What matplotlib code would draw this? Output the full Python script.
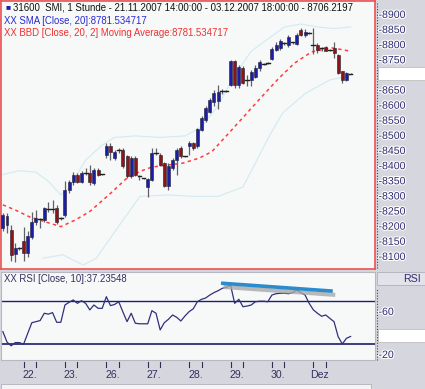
import matplotlib
matplotlib.use("Agg")
import matplotlib.pyplot as plt
from matplotlib.patches import Rectangle
import matplotlib.patheffects as pe
import matplotlib.transforms as mtransforms

# ---------------- data ----------------
opens = [8195, 8205, 8189, 8110, 8128, 8151, 8114, 8167, 8217, 8222,
         8222, 8258, 8258, 8261, 8227, 8239, 8321, 8349, 8371, 8349,
         8376, 8377, 8344, 8388, 8373, 8437, 8467, 8426, 8451, 8454,
         8432, 8366, 8426, 8365, 8359, 8332, 8355, 8442, 8437, 8410,
         8335, 8393, 8421, 8459, 8431, 8465, 8476, 8465, 8520, 8553,
         8579, 8613, 8615, 8646, 8648, 8669, 8746, 8669, 8725, 8684,
         8685, 8695, 8725, 8737, 8741, 8755, 8785, 8790, 8806, 8800,
         8808, 8805, 8850, 8835, 8840, 8800, 8801, 8791, 8794, 8786,
         8791, 8768, 8713, 8685, 8706]
highs = [8244, 8246, 8206, 8146, 8132, 8199, 8185, 8250, 8255, 8228,
         8265, 8283, 8288, 8270, 8232, 8350, 8355, 8382, 8377, 8385,
         8393, 8404, 8395, 8393, 8375, 8476, 8476, 8452, 8459, 8459,
         8437, 8432, 8432, 8371, 8362, 8360, 8459, 8459, 8443, 8415,
         8410, 8426, 8459, 8465, 8434, 8482, 8480, 8526, 8565, 8600,
         8625, 8652, 8669, 8655, 8652, 8752, 8752, 8735, 8730, 8700,
         8718, 8735, 8752, 8742, 8745, 8795, 8810, 8822, 8810, 8832,
         8812, 8840, 8857, 8855, 8845, 8857, 8806, 8795, 8797, 8788,
         8812, 8770, 8716, 8710, 8708]
lows = [8184, 8180, 8085, 8083, 8124, 8085, 8100, 8160, 8205, 8194,
        8215, 8250, 8244, 8208, 8222, 8233, 8310, 8338, 8344, 8344,
        8371, 8338, 8338, 8366, 8370, 8426, 8421, 8421, 8445, 8393,
        8360, 8360, 8366, 8355, 8357, 8299, 8352, 8437, 8399, 8330,
        8321, 8388, 8371, 8426, 8429, 8437, 8455, 8460, 8515, 8545,
        8575, 8600, 8590, 8640, 8646, 8665, 8660, 8660, 8670, 8665,
        8665, 8690, 8715, 8735, 8738, 8750, 8780, 8785, 8800, 8795,
        8805, 8800, 8830, 8828, 8836, 8770, 8775, 8780, 8780, 8782,
        8758, 8705, 8676, 8680, 8704]
closes = [8239, 8236, 8107, 8130, 8130, 8112, 8169, 8217, 8228, 8224,
          8261, 8259, 8260, 8217, 8229, 8321, 8349, 8371, 8349, 8379,
          8378, 8349, 8388, 8371, 8374, 8467, 8448, 8448, 8452, 8399,
          8366, 8426, 8371, 8366, 8360, 8357, 8443, 8443, 8404, 8335,
          8399, 8421, 8454, 8432, 8432, 8476, 8459, 8522, 8559, 8592,
          8619, 8642, 8646, 8647, 8649, 8746, 8669, 8728, 8675, 8686,
          8712, 8725, 8745, 8739, 8742, 8788, 8800, 8815, 8807, 8826,
          8810, 8835, 8835, 8845, 8840, 8800, 8784, 8790, 8782, 8785,
          8774, 8708, 8685, 8708, 8706.22]

sma_bars = [0, 3, 6.5, 10, 14, 17.5, 21, 23.5, 26, 30, 33, 36, 40, 43.5,
            47.5, 50.5, 55.3, 62.5, 66.7, 70.5, 74.6, 79.5, 84]
sma_vals = [8272, 8255, 8232, 8217, 8200, 8222, 8250, 8280, 8310, 8361,
            8382, 8397, 8404, 8410, 8427, 8448, 8520, 8629, 8691, 8741,
            8778, 8791, 8780]

bb_up_bars = [0, 4, 8, 11, 14, 16, 20, 24, 27, 32, 38, 44, 48, 52, 56, 60,
              64, 68, 72, 76, 80, 84]
bb_up_vals = [8372, 8385, 8380, 8350, 8305, 8330, 8420, 8470, 8495, 8500,
              8495, 8500, 8530, 8600, 8700, 8780, 8820, 8860, 8870, 8860,
              8855, 8860]
bb_lo_bars = [9.7, 14.5, 19.4, 22.6, 27.9, 33.1, 40, 46, 52, 58, 64.5,
              67.6, 73, 79, 84]
bb_lo_vals = [8096, 8107, 8073, 8096, 8200, 8300, 8305, 8300, 8300, 8331,
              8503, 8576, 8640, 8685, 8700]

rsi_vals = [41.7, 32, 28.5, 31.5, 31.5, 30, 40, 50, 51, 52,
            58.8, 58, 59.4, 50.4, 50.4, 66.5, 69, 71.2, 68, 70.5,
            68, 61.9, 66.5, 63.4, 63.4, 74.2, 65.9, 67, 69.5, 60,
            51, 58.8, 49.5, 49, 49, 49, 61.2, 58.8, 43.3, 50,
            53.2, 57.2, 55, 51.6, 56.3, 60.3, 63, 69.6, 71.8, 73,
            75.8, 78, 79.8, 82, 83, 85.1, 68, 71.8, 64.9, 65.5,
            66.5, 69.5, 70, 70, 69.5, 75.8, 77, 77.4, 77.5, 77,
            78, 80.5, 78, 75.8, 68, 62, 58.8, 56, 57.2, 54,
            51, 37, 30.2, 35.5, 37.2]
rsi_trend_bars = [52.7, 79.7]
rsi_trend_vals = [86.8, 79.4]

day_labels = ["22.", "23.", "26.", "27.", "28.", "29.", "30.", "Dez"]
day_start_bars = [5, 15, 25, 35, 45, 55, 65, 75]
price_ticks = [8100, 8150, 8200, 8250, 8300, 8350, 8400, 8450, 8500,
               8550, 8600, 8650, 8750, 8800, 8850, 8900]
rsi_ticks = [60, 20]
last_price_label = "8706.219"
last_price = 8706.22
last_rsi_label = "37.2355"
last_rsi = 37.2355

title_text = "31600  SMI, 1 Stunde - 21.11.2007 14:00:00 - 03.12.2007 18:00:00 - 8706.2197"
sma_text = "XX SMA [Close, 20]:8781.534717"
bbd_text = "XX BBD [Close, 20, 2] Moving Average:8781.534717"
rsi_text = "XX RSI [Close, 10]:37.23548"

# ---------------- layout ----------------
W, H = 425, 389
plt.rcParams['font.family'] = ['Liberation Sans', 'DejaVu Sans']
fig = plt.figure(figsize=(W / 100, H / 100), dpi=100)
fig.patch.set_facecolor('#d6d6de')

def fr(x0, y0, x1, y1):
    return [x0 / W, 1 - y1 / H, (x1 - x0) / W, (y1 - y0) / H]

PLOT_BG = '#f7f9f9'
ax = fig.add_axes(fr(1, 1, 375, 269))
ax.set_facecolor(PLOT_BG)
ax2 = fig.add_axes(fr(1, 272, 375, 360))
ax2.set_facecolor(PLOT_BG)

xmin, xmax = -0.45, 89.9
ax.set_xlim(xmin, xmax)
ax.set_ylim(8060, 8946)
ax2.set_xlim(xmin, xmax)
ax2.set_ylim(15.3, 97.2)

for a in (ax, ax2):
    a.set_xticks([])
    a.set_yticks([])
for s in ax.spines.values():
    s.set_color('#f05050')
    s.set_linewidth(1.2)
for s in ax2.spines.values():
    s.set_color('#b8b8c0')
    s.set_linewidth(0.8)

# Bollinger bands
ax.plot(bb_up_bars, bb_up_vals, color='#d6ebf1', lw=0.9, zorder=1)
ax.plot(bb_lo_bars, bb_lo_vals, color='#d6ebf1', lw=0.9, zorder=1)
# SMA
ax.plot(sma_bars, sma_vals, color='#ff3b3b', lw=1.1, ls=(0, (2.2, 2.2)), zorder=2)

# candles
bw = 0.72
for i, (o, h, l, c) in enumerate(zip(opens, highs, lows, closes)):
    ax.plot([i, i], [l, h], color='#606068', lw=0.9, zorder=3, solid_capstyle='butt')
    if abs(c - o) < 3:
        ax.plot([i - 0.45, i + 0.45], [c, c], color='#202020', lw=1.0, zorder=4)
    else:
        col = '#1c1ca8' if c > o else '#8c1414'
        ax.add_patch(Rectangle((i - bw / 2, min(o, c)), bw, abs(c - o),
                               facecolor=col, edgecolor='#202030', lw=0.4, zorder=4))

# RSI
ax2.axhline(70, color='#1e1e6e', lw=1.0, zorder=1)
ax2.axhline(30, color='#3c3c7c', lw=1.4, zorder=1)
ax2.plot(range(len(rsi_vals)), rsi_vals, color='#30307a', lw=0.9, zorder=3)
ax2.plot([b + 0.6 for b in rsi_trend_bars], [v - 3.5 for v in rsi_trend_vals],
         color='#a8a8a8', lw=3.0, alpha=0.8, solid_capstyle='butt', zorder=4)
ax2.plot(rsi_trend_bars, rsi_trend_vals, color='#2a8ccc', lw=2.6,
         solid_capstyle='butt', zorder=5)

# header texts
fig.text(5 / W, 1 - 7.5 / H, "\u25A0", color='#1c1ca8', fontsize=6, va='center', ha='left')
fig.text(13 / W, 1 - 7.5 / H, title_text, color='#101010', fontsize=6.9, va='center', ha='left')
fig.text(4 / W, 1 - 21 / H, sma_text, color='#2a2ad0', fontsize=6.9, va='center', ha='left')
fig.text(4 / W, 1 - 33 / H, bbd_text, color='#f03030', fontsize=6.9, va='center', ha='left')
fig.text(4 / W, 1 - 279 / H, rsi_text, color='#303060', fontsize=6.9, va='center', ha='left')

# right price axis
halo = [pe.withStroke(linewidth=1.6, foreground='white')]
lab_col = '#2c2c70'
FS = 7.6
trans_p = mtransforms.blended_transform_factory(fig.transFigure, ax.transData)
fig.add_artist(plt.Line2D([377 / W, 377 / W], [1 - 268 / H, 1 - 2 / H],
                          color='#404050', lw=0.8, ls=(0, (1, 1.5))))
for t in price_ticks:
    ax.text(378.5 / W, t, "-" + str(t), transform=trans_p, color=lab_col,
            fontsize=FS, va='center', ha='left', path_effects=halo, clip_on=False)
fig.add_artist(Rectangle((378 / W, 1 - 80 / H), 47 / W, 13 / H,
                         facecolor='white', edgecolor='#c0c0c0', lw=0.6,
                         transform=fig.transFigure))
ax.text(378.5 / W, last_price, "-" + last_price_label, transform=trans_p,
        color=lab_col, fontsize=FS, va='center', ha='left', clip_on=False)

# right RSI axis
fig.add_artist(Rectangle((377 / W, 1 - 285 / H), 48 / W, 13 / H,
                         facecolor='#e2e2ea', edgecolor='#b0b0b8', lw=0.6,
                         transform=fig.transFigure))
fig.text(421 / W, 1 - 279 / H, "RSI", color=lab_col, fontsize=FS, va='center', ha='right')
fig.add_artist(plt.Line2D([377 / W, 377 / W], [1 - 360 / H, 1 - 288 / H],
                          color='#404050', lw=0.8, ls=(0, (1, 1.5))))
trans_r = mtransforms.blended_transform_factory(fig.transFigure, ax2.transData)
for t in rsi_ticks:
    ax2.text(378.5 / W, t, "-" + str(t), transform=trans_r, color=lab_col,
             fontsize=FS, va='center', ha='left', path_effects=halo, clip_on=False)
fig.add_artist(Rectangle((378 / W, 1 - 342 / H), 47 / W, 13 / H,
                         facecolor='white', edgecolor='#c0c0c0', lw=0.6,
                         transform=fig.transFigure))
ax2.text(378.5 / W, last_rsi, "-" + last_rsi_label, transform=trans_r,
         color=lab_col, fontsize=FS, va='center', ha='left', clip_on=False)

# x axis (day labels)
trans_x = mtransforms.blended_transform_factory(ax2.transData, fig.transFigure)
for lab, b in zip(day_labels, day_start_bars):
    for tb in (b, b + 3):
        fig.add_artist(plt.Line2D([tb, tb], [1 - 362 / H, 1 - 367 / H], color='#303050',
                                  lw=0.8, transform=trans_x))
    fig.text(b + 1.5, 1 - 375 / H, lab, transform=trans_x, color='#303060',
             fontsize=FS, va='center', ha='center')

# bottom scrollbar strip
fig.add_artist(Rectangle((1 / W, 0), 370 / W, 5 / H, facecolor='#f4f4f4',
                         edgecolor='#b0b0b8', lw=0.6, transform=fig.transFigure))

fig.savefig("out.png", dpi=100, facecolor=fig.get_facecolor())
